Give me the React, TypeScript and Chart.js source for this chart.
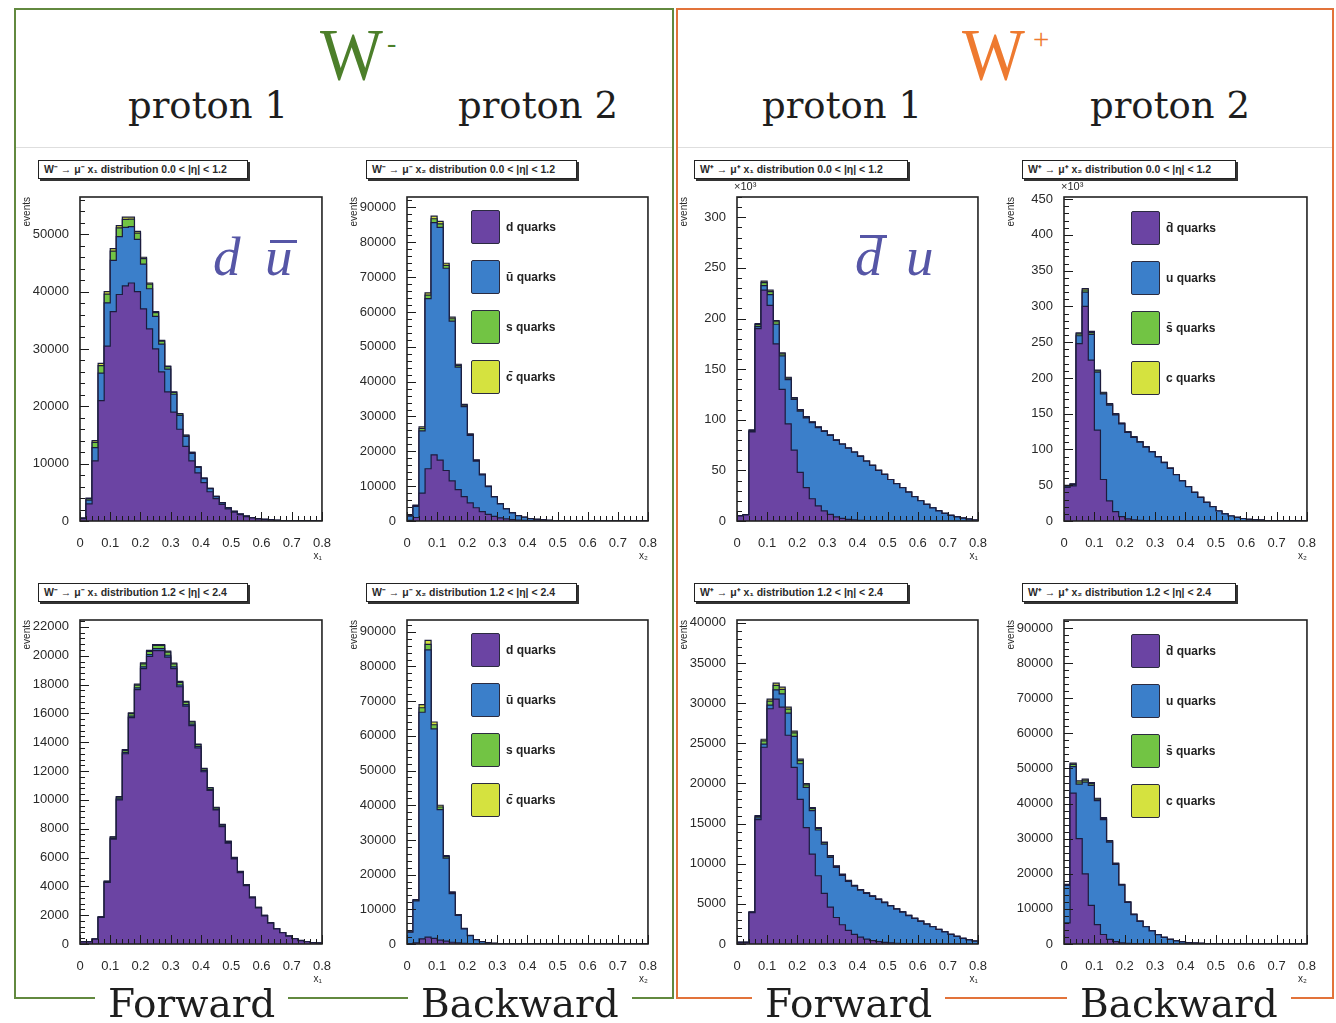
import React, { useEffect, useRef } from "react";
import { Chart, registerables } from "chart.js";

Chart.register(...registerables);
Chart.defaults.font.family = "'Liberation Sans', Arial, sans-serif";

// ---------------- binning / axes ----------------
const N_BINS = 40;
const X_MIN = 0;
const X_MAX = 0.8;
const X_MAJOR = 0.1;
const X_MINOR = 0.02;

// ---------------- data (events per bin, 40 bins of 0.02 in x) ----------------
// W- , proton 1 , 0.0 < |eta| < 1.2
const WM_P1_CEN_D = [400, 3000, 10500, 21000, 30500, 36500, 39500, 41000, 41500, 40000, 37000, 33500, 30000, 26000, 22500, 19000, 16000, 13000, 10500, 8400, 6700, 5100, 3900, 2900, 2100, 1550, 1100, 780, 550, 370, 260, 175, 110, 75, 45, 28, 18, 9, 4, 0];
const WM_P1_CEN_UBAR = [60, 650, 2300, 4800, 7550, 8950, 10100, 10200, 9850, 9100, 7800, 7000, 5700, 4850, 4000, 3100, 2400, 1750, 1300, 950, 700, 530, 350, 260, 180, 130, 90, 60, 45, 27, 18, 14, 9, 5, 5, 2, 2, 1, 1, 0];
const WM_P1_CEN_S = [30, 250, 900, 1300, 1500, 1600, 1500, 1400, 1300, 1100, 950, 800, 650, 520, 420, 330, 260, 200, 150, 110, 80, 60, 40, 30, 20, 14, 10, 6, 4, 3, 2, 1, 1, 0, 0, 0, 0, 0, 0, 0];
const WM_P1_CEN_CBAR = [10, 100, 300, 400, 450, 450, 420, 380, 340, 290, 240, 200, 160, 130, 100, 80, 60, 45, 35, 25, 18, 13, 9, 6, 4, 3, 2, 1, 1, 0, 0, 0, 0, 0, 0, 0, 0, 0, 0, 0];

// W- , proton 2 , 0.0 < |eta| < 1.2
const WM_P2_CEN_D = [200, 1000, 8000, 15000, 19000, 17500, 14500, 11500, 9000, 7000, 5200, 3800, 2700, 1900, 1300, 900, 600, 400, 260, 170, 110, 70, 45, 30, 18, 12, 8, 5, 3, 2, 1, 1, 0, 0, 0, 0, 0, 0, 0, 0];
const WM_P2_CEN_UBAR = [1200, 3200, 17850, 48850, 66650, 66800, 58050, 45900, 35150, 25850, 19350, 13400, 10550, 7950, 5600, 4000, 2850, 1950, 1300, 900, 580, 370, 250, 170, 100, 68, 42, 25, 17, 10, 7, 4, 3, 2, 1, 0, 0, 0, 0, 0];
const WM_P2_CEN_S = [60, 200, 700, 1000, 1100, 1000, 850, 650, 500, 380, 280, 200, 150, 100, 70, 50, 35, 25, 15, 10, 6, 4, 2, 1, 1, 0, 0, 0, 0, 0, 0, 0, 0, 0, 0, 0, 0, 0, 0, 0];
const WM_P2_CEN_CBAR = [40, 130, 450, 650, 750, 700, 580, 450, 340, 250, 180, 120, 90, 60, 40, 28, 20, 13, 8, 5, 3, 2, 1, 1, 0, 0, 0, 0, 0, 0, 0, 0, 0, 0, 0, 0, 0, 0, 0, 0];

// W+ , proton 1 , 0.0 < |eta| < 1.2   (x10^3)
const WP_P1_CEN_DBAR = [5, 6, 88, 190, 228, 213, 175, 130, 96, 70, 48, 33, 22, 15, 10, 6.5, 4, 2.6, 1.7, 1.1, 0.7, 0.4, 0.3, 0.2, 0.1, 0, 0, 0, 0, 0, 0, 0, 0, 0, 0, 0, 0, 0, 0, 0];
const WP_P1_CEN_U = [0, 0, 0.5, 2, 4.5, 10.5, 19.3, 33, 43.6, 50.2, 60.5, 68.8, 75.1, 77.3, 78.5, 78.1, 75.7, 73.2, 70.2, 66.8, 63.2, 58.6, 54.7, 49.8, 45.9, 41, 37, 33, 28.5, 24, 20, 16.5, 13, 10, 7.5, 5.5, 4, 2.8, 1.8, 1];
const WP_P1_CEN_SBAR = [0, 0, 1, 2, 3, 3, 2.5, 2, 1.6, 1.2, 1, 0.8, 0.6, 0.5, 0.4, 0.3, 0.25, 0.2, 0.15, 0.1, 0.1, 0.05, 0, 0, 0, 0, 0, 0, 0, 0, 0, 0, 0, 0, 0, 0, 0, 0, 0, 0];
const WP_P1_CEN_C = [0, 0, 0.5, 1, 1.5, 1.5, 1.2, 1, 0.8, 0.6, 0.5, 0.4, 0.3, 0.2, 0.15, 0.1, 0.1, 0.05, 0, 0, 0, 0, 0, 0, 0, 0, 0, 0, 0, 0, 0, 0, 0, 0, 0, 0, 0, 0, 0, 0];

// W+ , proton 2 , 0.0 < |eta| < 1.2   (x10^3)
const WP_P2_CEN_DBAR = [47, 49, 248, 300, 225, 127, 58, 28, 13, 6, 3, 1.5, 0.8, 0.4, 0.2, 0.1, 0, 0, 0, 0, 0, 0, 0, 0, 0, 0, 0, 0, 0, 0, 0, 0, 0, 0, 0, 0, 0, 0, 0, 0];
const WP_P2_CEN_U = [1.8, 1.8, 11, 20, 36, 81, 119.6, 134.1, 135.4, 129.7, 120.9, 115.5, 109.4, 102.9, 96.3, 89.5, 81.6, 73.7, 64.8, 55.9, 47.9, 39.9, 33, 26, 20, 14, 10, 7, 5, 3.5, 2.4, 1.6, 1.1, 0.7, 0.5, 0.3, 0.2, 0.1, 0.1, 0];
const WP_P2_CEN_SBAR = [0.8, 0.8, 2.5, 3, 2.5, 2, 1.6, 1.3, 1.1, 0.9, 0.8, 0.7, 0.6, 0.5, 0.4, 0.35, 0.3, 0.25, 0.2, 0.15, 0.1, 0.08, 0.05, 0, 0, 0, 0, 0, 0, 0, 0, 0, 0, 0, 0, 0, 0, 0, 0, 0];
const WP_P2_CEN_C = [0.4, 0.4, 1.5, 2, 1.5, 1, 0.8, 0.6, 0.5, 0.4, 0.35, 0.3, 0.25, 0.2, 0.15, 0.1, 0.1, 0.05, 0, 0, 0, 0, 0, 0, 0, 0, 0, 0, 0, 0, 0, 0, 0, 0, 0, 0, 0, 0, 0, 0];

// W- , proton 1 , 1.2 < |eta| < 2.4
const WM_P1_FWD_D = [145, 145, 340, 1840, 4270, 7280, 10000, 13200, 15700, 17650, 19100, 19950, 20350, 20350, 19900, 19100, 17850, 16500, 15150, 13600, 11950, 10650, 9300, 8150, 7000, 5900, 4950, 4050, 3200, 2500, 1950, 1450, 1050, 780, 540, 370, 240, 155, 95, 58];
const WM_P1_FWD_UBAR = [1, 1, 2, 12, 30, 50, 70, 90, 110, 120, 130, 135, 140, 140, 135, 130, 120, 110, 100, 90, 80, 70, 62, 54, 46, 40, 33, 27, 21, 17, 13, 10, 7, 5, 4, 3, 2, 1, 1, 0];
const WM_P1_FWD_S = [2, 2, 4, 24, 50, 85, 115, 150, 175, 195, 210, 218, 220, 220, 212, 200, 185, 170, 155, 137, 118, 105, 90, 78, 66, 55, 45, 37, 28, 22, 17, 12, 9, 6, 5, 3, 2, 2, 1, 1];
const WM_P1_FWD_CBAR = [1, 1, 1, 8, 15, 25, 35, 45, 55, 60, 65, 68, 70, 70, 68, 65, 60, 55, 50, 45, 40, 35, 30, 26, 22, 18, 15, 12, 10, 8, 6, 5, 3, 2, 2, 1, 1, 0, 0, 0];

// W- , proton 2 , 1.2 < |eta| < 2.4
const WM_P2_FWD_D = [80, 300, 1500, 2000, 1600, 1100, 800, 500, 300, 180, 100, 60, 30, 18, 9, 5, 3, 1, 0, 0, 0, 0, 0, 0, 0, 0, 0, 0, 0, 0, 0, 0, 0, 0, 0, 0, 0, 0, 0, 0];
const WM_P2_FWD_UBAR = [3300, 12100, 65300, 82800, 60400, 37650, 23950, 14050, 7950, 4200, 2300, 1200, 650, 370, 190, 90, 56, 29, 15, 8, 4, 2, 1, 0, 0, 0, 0, 0, 0, 0, 0, 0, 0, 0, 0, 0, 0, 0, 0, 0];
const WM_P2_FWD_S = [60, 250, 1300, 1600, 1200, 750, 450, 270, 150, 80, 45, 22, 12, 7, 3, 2, 1, 0, 0, 0, 0, 0, 0, 0, 0, 0, 0, 0, 0, 0, 0, 0, 0, 0, 0, 0, 0, 0, 0, 0];
const WM_P2_FWD_CBAR = [40, 150, 900, 1100, 800, 500, 300, 180, 100, 55, 30, 15, 8, 4, 2, 1, 0, 0, 0, 0, 0, 0, 0, 0, 0, 0, 0, 0, 0, 0, 0, 0, 0, 0, 0, 0, 0, 0, 0, 0];

// W+ , proton 1 , 1.2 < |eta| < 2.4
const WP_P1_FWD_DBAR = [200, 200, 3900, 15500, 24500, 29300, 30500, 29500, 26000, 22000, 18000, 14500, 11200, 8500, 6300, 4600, 3300, 2400, 1700, 1200, 850, 600, 420, 290, 200, 140, 95, 65, 45, 30, 20, 13, 8, 5, 3, 2, 1, 0, 0, 0];
const WP_P1_FWD_U = [0, 0, 40, 200, 400, 450, 1150, 1650, 2750, 3850, 4450, 5000, 5400, 5700, 6150, 6200, 6250, 6150, 6100, 6000, 5850, 5700, 5500, 5250, 4950, 4600, 4250, 3900, 3500, 3150, 2800, 2450, 2150, 1800, 1500, 1200, 950, 700, 500, 350];
const WP_P1_FWD_SBAR = [0, 0, 40, 200, 400, 500, 550, 550, 500, 450, 380, 320, 260, 210, 170, 140, 115, 95, 80, 70, 60, 55, 50, 45, 40, 35, 30, 27, 24, 20, 17, 14, 12, 9, 7, 5, 4, 3, 2, 1];
const WP_P1_FWD_C = [0, 0, 20, 100, 200, 250, 280, 280, 250, 220, 190, 160, 130, 100, 80, 65, 55, 45, 38, 32, 28, 25, 22, 20, 18, 16, 14, 12, 10, 9, 8, 6, 5, 4, 3, 2, 2, 1, 1, 0];

// W+ , proton 2 , 1.2 < |eta| < 2.4
const WP_P2_FWD_DBAR = [6000, 43000, 30000, 20000, 11000, 5500, 2700, 1300, 650, 320, 160, 80, 40, 20, 10, 5, 2, 1, 0, 0, 0, 0, 0, 0, 0, 0, 0, 0, 0, 0, 0, 0, 0, 0, 0, 0, 0, 0, 0, 0];
const WP_P2_FWD_U = [10700, 7550, 15550, 26100, 34200, 35350, 32750, 27750, 22050, 16450, 11700, 8300, 6400, 4900, 3750, 2650, 1900, 1300, 890, 600, 400, 260, 170, 110, 70, 45, 30, 20, 12, 8, 5, 3, 2, 1, 0, 0, 0, 0, 0, 0];
const WP_P2_FWD_SBAR = [200, 600, 600, 550, 500, 420, 350, 270, 200, 150, 100, 70, 50, 35, 25, 17, 12, 8, 5, 3, 2, 1, 1, 0, 0, 0, 0, 0, 0, 0, 0, 0, 0, 0, 0, 0, 0, 0, 0, 0];
const WP_P2_FWD_C = [100, 350, 350, 330, 300, 250, 200, 160, 120, 90, 60, 40, 30, 20, 14, 10, 7, 4, 3, 2, 1, 1, 0, 0, 0, 0, 0, 0, 0, 0, 0, 0, 0, 0, 0, 0, 0, 0, 0, 0];

// ---------------- labels ----------------
const LEGEND_WM = ["d quarks", "\u016B quarks", "s quarks", "c\u0304 quarks"];
const LEGEND_WP = ["d\u0304 quarks", "u quarks", "s\u0304 quarks", "c quarks"];
const TITLE_WM1_CEN = "W\u207B \u2192 \u03BC\u207B x\u2081 distribution 0.0 < |\u03B7| < 1.2";
const TITLE_WM2_CEN = "W\u207B \u2192 \u03BC\u207B x\u2082 distribution 0.0 < |\u03B7| < 1.2";
const TITLE_WP1_CEN = "W\u207A \u2192 \u03BC\u207A x\u2081 distribution 0.0 < |\u03B7| < 1.2";
const TITLE_WP2_CEN = "W\u207A \u2192 \u03BC\u207A x\u2082 distribution 0.0 < |\u03B7| < 1.2";
const TITLE_WM1_FWD = "W\u207B \u2192 \u03BC\u207B x\u2081 distribution 1.2 < |\u03B7| < 2.4";
const TITLE_WM2_FWD = "W\u207B \u2192 \u03BC\u207B x\u2082 distribution 1.2 < |\u03B7| < 2.4";
const TITLE_WP1_FWD = "W\u207A \u2192 \u03BC\u207A x\u2081 distribution 1.2 < |\u03B7| < 2.4";
const TITLE_WP2_FWD = "W\u207A \u2192 \u03BC\u207A x\u2082 distribution 1.2 < |\u03B7| < 2.4";

// ---------------- styles ----------------
const SERIES_COLORS = ["#6b44a3", "#3b7fca", "#72c444", "#d5e23f"];
const OUTLINE = "#1c1c3e";
const GREEN = "#62893f";
const ORANGE = "#e2733a";
const Y_AXIS_W = 62;
const X_AXIS_H = 44;
const PAD_T = 12;
const PAD_R = 12;

type Frame = { l: number; t: number; r: number; b: number };
type PanelDef = {
  frame: Frame;
  yMax: number;
  yStep: number;
  series: number[][];
  names: string[];
  xTitle: string;
  title: string;
  titleBox: { l: number; t: number; w: number };
  legend: { l: number; t: number } | null;
};

const PANELS: PanelDef[] = [
  { frame: { l: 80, t: 197, r: 326, b: 521 }, yMax: 56500, yStep: 10000, series: [WM_P1_CEN_D, WM_P1_CEN_UBAR, WM_P1_CEN_S, WM_P1_CEN_CBAR], names: LEGEND_WM, xTitle: "x\u2081", title: TITLE_WM1_CEN, titleBox: { l: 38, t: 160, w: 210 }, legend: null },
  { frame: { l: 407, t: 197, r: 652, b: 521 }, yMax: 93000, yStep: 10000, series: [WM_P2_CEN_D, WM_P2_CEN_UBAR, WM_P2_CEN_S, WM_P2_CEN_CBAR], names: LEGEND_WM, xTitle: "x\u2082", title: TITLE_WM2_CEN, titleBox: { l: 366, t: 160, w: 211 }, legend: { l: 471, t: 210 } },
  { frame: { l: 737, t: 197, r: 982, b: 521 }, yMax: 320, yStep: 50, series: [WP_P1_CEN_DBAR, WP_P1_CEN_U, WP_P1_CEN_SBAR, WP_P1_CEN_C], names: LEGEND_WP, xTitle: "x\u2081", title: TITLE_WP1_CEN, titleBox: { l: 694, t: 160, w: 214 }, legend: null },
  { frame: { l: 1064, t: 197, r: 1311, b: 521 }, yMax: 453, yStep: 50, series: [WP_P2_CEN_DBAR, WP_P2_CEN_U, WP_P2_CEN_SBAR, WP_P2_CEN_C], names: LEGEND_WP, xTitle: "x\u2082", title: TITLE_WP2_CEN, titleBox: { l: 1022, t: 160, w: 214 }, legend: { l: 1131, t: 211 } },
  { frame: { l: 80, t: 620, r: 326, b: 944 }, yMax: 22480, yStep: 2000, series: [WM_P1_FWD_D, WM_P1_FWD_UBAR, WM_P1_FWD_S, WM_P1_FWD_CBAR], names: LEGEND_WM, xTitle: "x\u2081", title: TITLE_WM1_FWD, titleBox: { l: 38, t: 583, w: 210 }, legend: null },
  { frame: { l: 407, t: 620, r: 652, b: 944 }, yMax: 93400, yStep: 10000, series: [WM_P2_FWD_D, WM_P2_FWD_UBAR, WM_P2_FWD_S, WM_P2_FWD_CBAR], names: LEGEND_WM, xTitle: "x\u2082", title: TITLE_WM2_FWD, titleBox: { l: 366, t: 583, w: 211 }, legend: { l: 471, t: 633 } },
  { frame: { l: 737, t: 620, r: 982, b: 944 }, yMax: 40350, yStep: 5000, series: [WP_P1_FWD_DBAR, WP_P1_FWD_U, WP_P1_FWD_SBAR, WP_P1_FWD_C], names: LEGEND_WP, xTitle: "x\u2081", title: TITLE_WP1_FWD, titleBox: { l: 694, t: 583, w: 214 }, legend: null },
  { frame: { l: 1064, t: 620, r: 1311, b: 944 }, yMax: 92300, yStep: 10000, series: [WP_P2_FWD_DBAR, WP_P2_FWD_U, WP_P2_FWD_SBAR, WP_P2_FWD_C], names: LEGEND_WP, xTitle: "x\u2082", title: TITLE_WP2_FWD, titleBox: { l: 1022, t: 583, w: 214 }, legend: { l: 1131, t: 634 } },
];

function Histogram({ p }: { p: PanelDef }) {
  const ref = useRef<HTMLCanvasElement | null>(null);
  const fw = p.frame.r - p.frame.l;
  const fh = p.frame.b - p.frame.t;
  const W = fw + Y_AXIS_W + PAD_R;
  const H = fh + PAD_T + X_AXIS_H;

  useEffect(() => {
    if (!ref.current) return;
    const edges = Array.from({ length: N_BINS + 1 }, (_, i) => X_MIN + (i * (X_MAX - X_MIN)) / N_BINS);
    const datasets = p.series.map((vals, k) => ({
      label: p.names[k],
      data: edges.map((x, i) => ({ x, y: vals[Math.min(i, N_BINS - 1)] })),
      stepped: "before" as const,
      fill: "origin" as const,
      backgroundColor: SERIES_COLORS[k],
      borderColor: OUTLINE,
      borderWidth: 1.2,
      pointRadius: 0,
      tension: 0,
    }));
    const yMax = p.yMax;
    const yStep = p.yStep;
    const framePlugin = {
      id: "rootFrame",
      afterDatasetsDraw(chart: any) {
        const { ctx, chartArea: a } = chart;
        const xs = chart.scales.x;
        const ys = chart.scales.y;
        ctx.save();
        ctx.strokeStyle = "#1a1a1a";
        ctx.lineWidth = 1;
        ctx.beginPath();
        const nx = Math.round((X_MAX - X_MIN) / X_MINOR);
        const perMajorX = Math.round(X_MAJOR / X_MINOR);
        for (let i = 0; i <= nx; i++) {
          const px = Math.round(xs.getPixelForValue(X_MIN + i * X_MINOR)) + 0.5;
          const len = i % perMajorX === 0 ? 9 : 5;
          ctx.moveTo(px, a.bottom);
          ctx.lineTo(px, a.bottom - len);
        }
        const minor = yStep / 5;
        const ny = Math.floor(yMax / minor + 1e-6);
        for (let j = 0; j <= ny; j++) {
          const py = Math.round(ys.getPixelForValue(j * minor)) + 0.5;
          const len = j % 5 === 0 ? 9 : 5;
          ctx.moveTo(a.left, py);
          ctx.lineTo(a.left + len, py);
        }
        ctx.stroke();
        ctx.lineWidth = 1.6;
        ctx.strokeStyle = "#222";
        ctx.strokeRect(a.left, a.top, a.right - a.left, a.bottom - a.top);
        ctx.restore();
      },
    };
    const chart = new Chart(ref.current, {
      type: "line",
      data: { datasets },
      options: {
        animation: false,
        responsive: false,
        maintainAspectRatio: false,
        layout: { padding: { top: PAD_T, right: PAD_R, left: 0, bottom: 0 } },
        plugins: { legend: { display: false }, tooltip: { enabled: false } },
        scales: {
          x: {
            type: "linear",
            min: X_MIN,
            max: X_MAX,
            grid: { display: false },
            border: { display: false },
            afterBuildTicks: (s: any) => {
              const t: any[] = [];
              const n = Math.round((X_MAX - X_MIN) / X_MAJOR);
              for (let i = 0; i <= n; i++) t.push({ value: X_MIN + i * X_MAJOR });
              s.ticks = t;
            },
            ticks: {
              autoSkip: false,
              maxRotation: 0,
              padding: 7,
              color: "#2a2a2a",
              font: { size: 13 },
              callback: (v: any) => (Math.abs(Number(v)) < 1e-9 ? "0" : Number(v).toFixed(1)),
            },
            title: { display: true, text: p.xTitle, align: "end", color: "#2a2a2a", font: { size: 10 }, padding: { top: 2, bottom: 3 } },
            afterFit: (s: any) => {
              s.height = X_AXIS_H;
            },
          },
          y: {
            type: "linear",
            stacked: true,
            min: 0,
            max: yMax,
            grid: { display: false },
            border: { display: false },
            afterBuildTicks: (s: any) => {
              const t: any[] = [];
              const n = Math.floor(yMax / yStep + 1e-9);
              for (let i = 0; i <= n; i++) t.push({ value: i * yStep });
              s.ticks = t;
            },
            ticks: {
              autoSkip: false,
              padding: 3,
              color: "#2a2a2a",
              font: { size: 13 },
              callback: (v: any) => String(Math.round(Number(v))),
            },
            title: { display: true, text: "events", align: "end", color: "#2a2a2a", font: { size: 10 }, padding: { top: 3, bottom: 0 } },
            afterFit: (s: any) => {
              s.width = Y_AXIS_W;
            },
          },
        },
      } as any,
      plugins: [framePlugin],
    });
    return () => chart.destroy();
  }, []);

  return (
    <canvas
      ref={ref}
      width={W}
      height={H}
      style={{ position: "absolute", left: p.frame.l - Y_AXIS_W, top: p.frame.t - PAD_T, width: W, height: H }}
    />
  );
}

function TitleBox({ p }: { p: PanelDef }) {
  return (
    <div
      style={{
        position: "absolute",
        left: p.titleBox.l,
        top: p.titleBox.t,
        width: p.titleBox.w,
        height: 19,
        boxSizing: "border-box",
        border: "1px solid #222",
        boxShadow: "2px 2px 0 #333",
        background: "#fff",
        font: "bold 10.5px 'Liberation Sans', Arial, sans-serif",
        color: "#2a2a2a",
        lineHeight: "17px",
        paddingLeft: 5,
        whiteSpace: "nowrap",
        overflow: "hidden",
      }}
    >
      {p.title}
    </div>
  );
}

function Legend({ p }: { p: PanelDef }) {
  if (!p.legend) return null;
  const L = p.legend;
  return (
    <>
      {p.names.map((name, k) => (
        <div key={k} style={{ position: "absolute", left: L.l, top: L.t + k * 50, height: 34, display: "flex", alignItems: "center" }}>
          <div
            style={{
              width: 29,
              height: 34,
              boxSizing: "border-box",
              background: SERIES_COLORS[k],
              border: "1.5px solid #2b2b40",
              borderRadius: 2,
            }}
          />
          <span style={{ marginLeft: 6, font: "bold 12px 'Liberation Sans', Arial, sans-serif", color: "#222", whiteSpace: "nowrap" }}>{name}</span>
        </div>
      ))}
    </>
  );
}

const serifBig = "'DejaVu Serif', 'Liberation Serif', serif";
const mathFont = "italic 55px 'Liberation Serif', 'DejaVu Serif', serif";

function Txt({ left, top, size, color, family, children }: any) {
  return (
    <div style={{ position: "absolute", left, top, fontSize: size, lineHeight: 1, color, fontFamily: family, whiteSpace: "nowrap" }}>{children}</div>
  );
}

export default function App() {
  return (
    <div style={{ position: "absolute", left: 0, top: 0, width: 1336, height: 1023, background: "#fff", overflow: "hidden", fontFamily: "'Liberation Sans', Arial, sans-serif" }}>
      {/* panel borders */}
      <div style={{ position: "absolute", left: 14, top: 8, width: 660, height: 991, border: `2px solid ${GREEN}`, boxSizing: "border-box" }} />
      <div style={{ position: "absolute", left: 676, top: 8, width: 658, height: 991, border: `2px solid ${ORANGE}`, boxSizing: "border-box" }} />
      <div style={{ position: "absolute", left: 16, top: 147, width: 656, height: 1, background: "#dedede" }} />
      <div style={{ position: "absolute", left: 678, top: 147, width: 654, height: 1, background: "#dedede" }} />

      {PANELS.map((p, i) => (
        <Histogram key={i} p={p} />
      ))}
      {PANELS.map((p, i) => (
        <TitleBox key={"t" + i} p={p} />
      ))}
      {PANELS.map((p, i) => (
        <Legend key={"l" + i} p={p} />
      ))}

      {/* x10^3 exponent labels */}
      <Txt left={734} top={181} size={11} color="#2a2a2a" family="'Liberation Sans', Arial, sans-serif">{"\u00D710\u00B3"}</Txt>
      <Txt left={1061} top={181} size={11} color="#2a2a2a" family="'Liberation Sans', Arial, sans-serif">{"\u00D710\u00B3"}</Txt>

      {/* parton annotations */}
      <div style={{ position: "absolute", left: 213, top: 229, font: mathFont, lineHeight: 1, color: "#5656a6" }}>d</div>
      <div style={{ position: "absolute", left: 265, top: 229, font: mathFont, lineHeight: 1, color: "#5656a6" }}>u</div>
      <div style={{ position: "absolute", left: 270, top: 240, width: 27, height: 3, background: "#5656a6" }} />
      <div style={{ position: "absolute", left: 855, top: 229, font: mathFont, lineHeight: 1, color: "#5656a6" }}>d</div>
      <div style={{ position: "absolute", left: 860, top: 235, width: 27, height: 3, background: "#5656a6" }} />
      <div style={{ position: "absolute", left: 906, top: 229, font: mathFont, lineHeight: 1, color: "#5656a6" }}>u</div>

      {/* headers */}
      <div style={{ position: "absolute", left: 320, top: 18, fontSize: 74, lineHeight: 1, color: "#4c7f2a", fontFamily: "'Liberation Serif', serif", transform: "scaleX(0.9)", transformOrigin: "left top" }}>W</div>
      <Txt left={387} top={29} size={28} color="#4c7f2a" family="'Liberation Serif', serif">-</Txt>
      <div style={{ position: "absolute", left: 962, top: 18, fontSize: 74, lineHeight: 1, color: "#ee7a30", fontFamily: "'Liberation Serif', serif", transform: "scaleX(0.9)", transformOrigin: "left top" }}>W</div>
      <Txt left={1033} top={25} size={29} color="#ee7a30" family="'Liberation Serif', serif">+</Txt>

      <Txt left={128} top={87} size={37} color="#1e1e1e" family={serifBig}>proton 1</Txt>
      <Txt left={458} top={87} size={37} color="#1e1e1e" family={serifBig}>proton 2</Txt>
      <Txt left={762} top={87} size={37} color="#1e1e1e" family={serifBig}>proton 1</Txt>
      <Txt left={1090} top={87} size={37} color="#1e1e1e" family={serifBig}>proton 2</Txt>

      {/* bottom labels (cover the box border) */}
      <div style={{ position: "absolute", left: 95, top: 984, padding: "0 13px", background: "#fff", fontSize: 39, lineHeight: 1, fontFamily: serifBig, color: "#1e1e1e" }}>Forward</div>
      <div style={{ position: "absolute", left: 408, top: 984, padding: "0 13px", background: "#fff", fontSize: 39, lineHeight: 1, fontFamily: serifBig, color: "#1e1e1e" }}>Backward</div>
      <div style={{ position: "absolute", left: 752, top: 984, padding: "0 13px", background: "#fff", fontSize: 39, lineHeight: 1, fontFamily: serifBig, color: "#1e1e1e" }}>Forward</div>
      <div style={{ position: "absolute", left: 1067, top: 984, padding: "0 13px", background: "#fff", fontSize: 39, lineHeight: 1, fontFamily: serifBig, color: "#1e1e1e" }}>Backward</div>
    </div>
  );
}
